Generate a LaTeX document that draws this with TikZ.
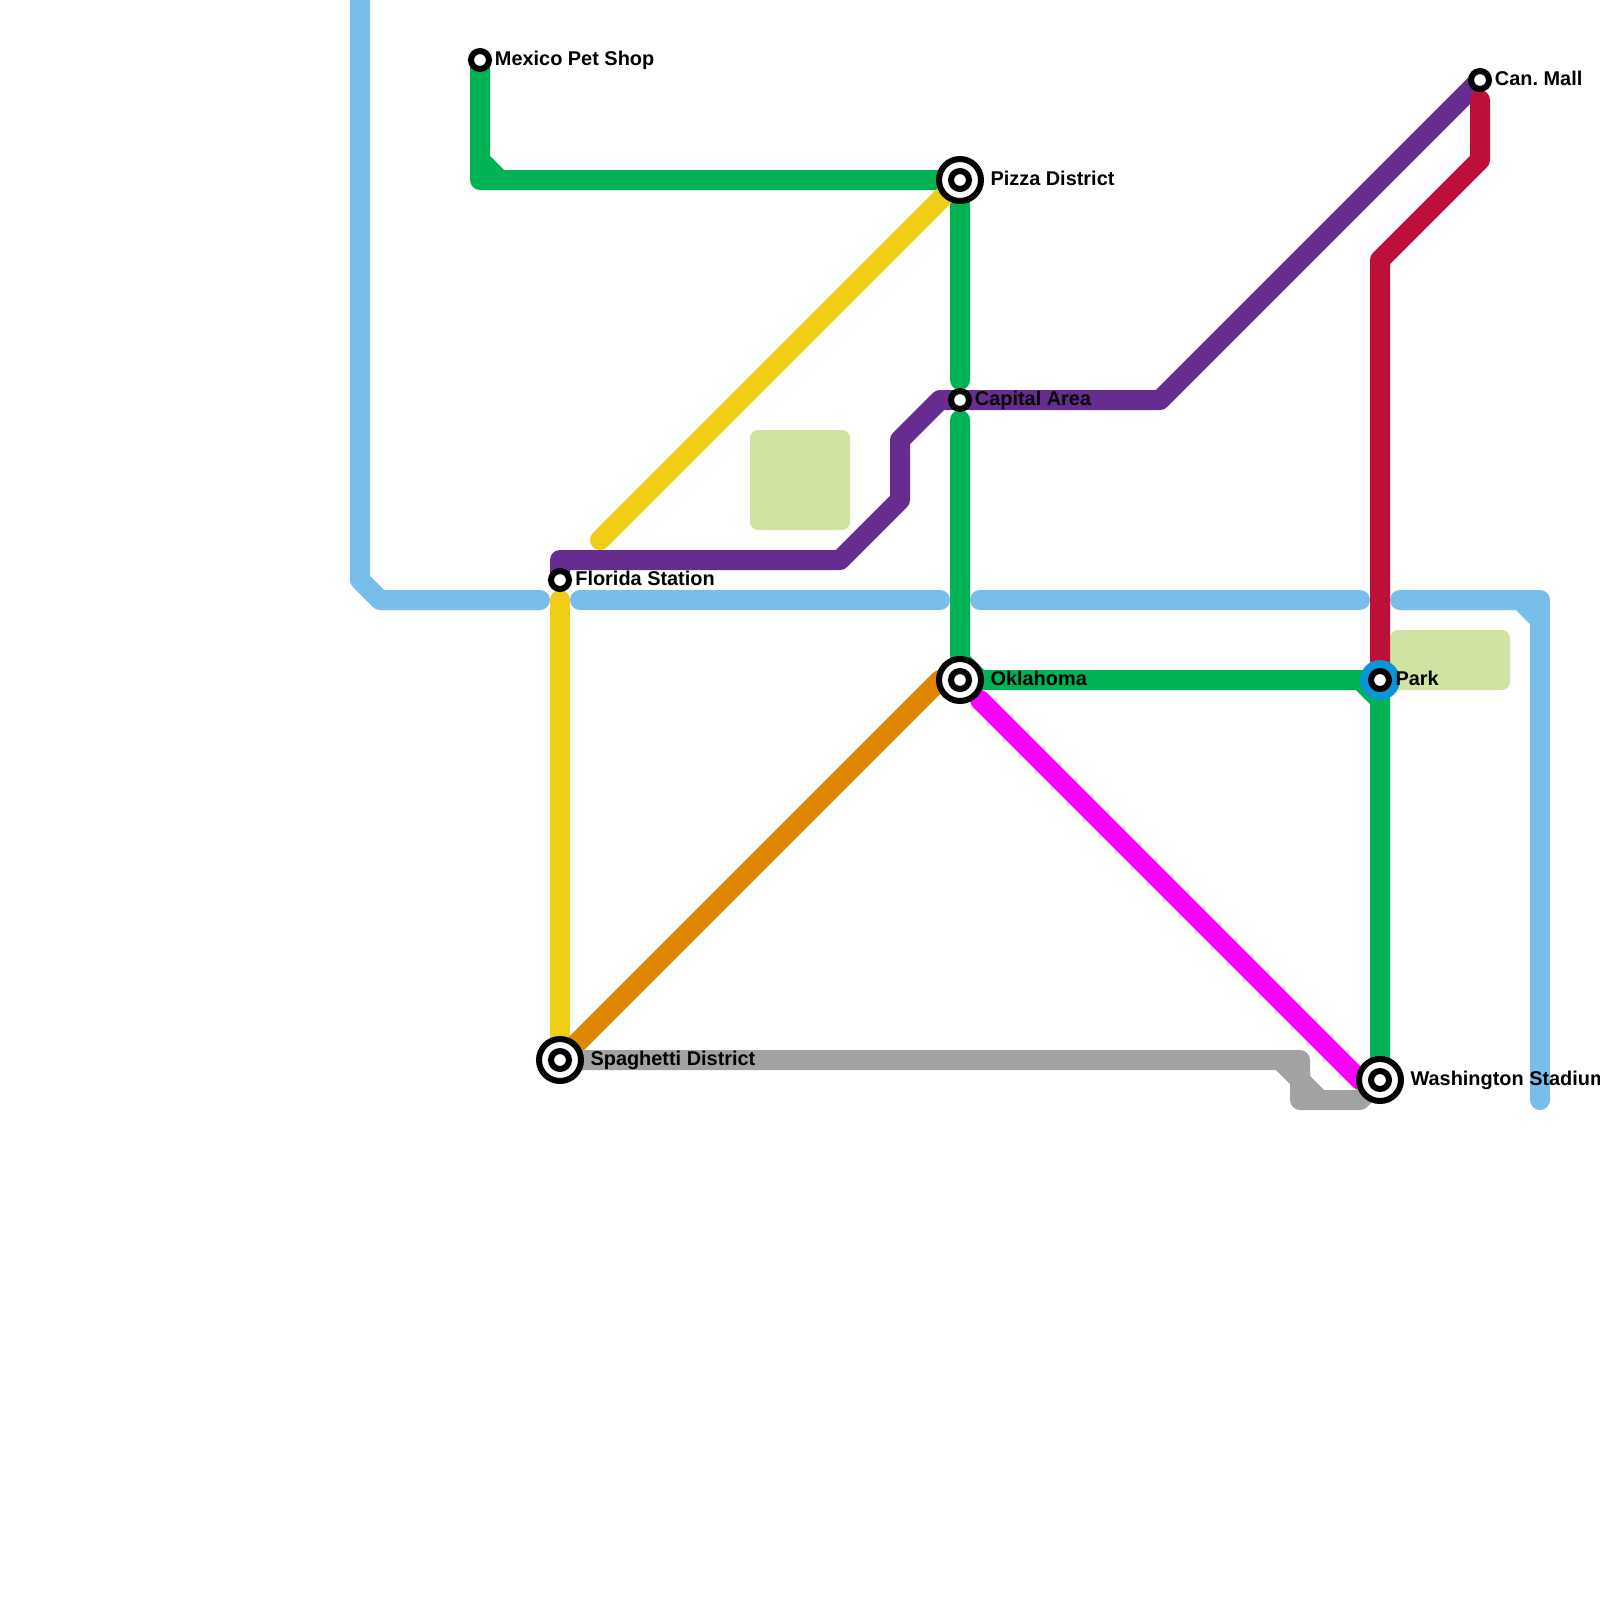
\documentclass[tikz,border=0pt]{standalone}
\usepackage{fontspec}
\setmainfont{Liberation Sans}
\frenchspacing
\usetikzlibrary{positioning}

\definecolor{skyline}{HTML}{79BDE9}
\definecolor{greenline}{HTML}{00B251}
\definecolor{purpleline}{HTML}{662C90}
\definecolor{yellowline}{HTML}{F0CE15}
\definecolor{orangeline}{HTML}{DF8600}
\definecolor{crimsonline}{HTML}{BD1038}
\definecolor{magentaline}{HTML}{FF00FF}
\definecolor{grayline}{HTML}{A2A2A2}
\definecolor{parkblue}{HTML}{0896D7}
\definecolor{parkgreen}{HTML}{CFE4A3}

\tikzset{
  metro/.style={line width=0.25cm, line cap=round, line join=round},
  smallstn/.style={circle, draw=black, fill=white, line width=0.075cm, minimum size=0.225cm, inner sep=0pt, outer sep=0pt},
  bigstn/.style={circle, draw=black, fill=white, line width=0.075cm, minimum size=0.525cm, inner sep=0pt, outer sep=0pt},
  parkstn/.style={circle, fill=parkblue, minimum size=0.5cm, inner sep=0pt, outer sep=0pt},
  stnlabel/.style={anchor=base west, inner sep=0pt, font=\fontsize{7.08pt}{8.5pt}\selectfont\bfseries},
  patch/.style={fill=parkgreen, rounded corners=0.1cm},
}

\begin{document}
\begin{tikzpicture}[x=0.25cm, y=-0.25cm]
  \useasboundingbox (0,0) rectangle (80,80);

  % Stations
  \coordinate (mexico) at (24,3);
  \coordinate (pizza) at (48,9);
  \coordinate (capital) at (48,20);
  \coordinate (florida) at (28,29);
  \coordinate (oklahoma) at (48,34);
  \coordinate (park) at (69,34);
  \coordinate (spaghetti) at (28,53);
  \coordinate (washington) at (69,54);
  \coordinate (canmall) at (74,4);

  % Park areas
  \fill[patch] (37.5,21.5) rectangle (42.5,26.5);
  \fill[patch] (69.5,31.5) rectangle (75.5,34.5);

  % Light blue line
  \draw[metro, skyline] (18,-1) -- (18,29) -- (19,30) -- (27,30);
  \draw[metro, skyline] (29,30) -- (47,30);
  \draw[metro, skyline] (49,30) -- (68,30);
  \draw[metro, skyline] (70,30) -- (77,30) -- (77,55) (76,30) -- (77,31);

  % Purple line
  \draw[metro, purpleline] (florida) -- (28,28) -- (42,28) -- (45,25) -- (45,22) -- (47,20) -- (capital) -- (58,20) -- (canmall);

  % Crimson line
  \draw[metro, crimsonline] (74,5) -- (74,8) -- (69,13) -- (park);

  % Green line
  \draw[metro, greenline] (mexico) -- (24,9) -- (pizza) -- (48,19) (24,8) -- (25,9);
  \draw[metro, greenline] (48,21) -- (oklahoma) -- (park) -- (washington) (48,33) -- (49,34) (68,34) -- (69,35);

  % Yellow line
  \draw[metro, yellowline] (30,27) -- (pizza);
  \draw[metro, yellowline] (28,30) -- (spaghetti);

  % Orange line
  \draw[metro, orangeline] (spaghetti) -- (47,34) -- (oklahoma);

  % Magenta line
  \draw[metro, magentaline] (49,35) -- (68,54) -- (washington);

  % Gray line
  \draw[metro, grayline] (spaghetti) -- (65,53) -- (65,55) -- (68,55) -- (washington) (64,53) -- (65,54) -- (66,55);

  % Station markers
  \node[smallstn] (mexicostn) at (mexico) {};
  \node[smallstn] (floridastn) at (florida) {};
  \node[smallstn] (capitalstn) at (capital) {};
  \node[smallstn] (canmallstn) at (canmall) {};
  \node[parkstn] (parkring) at (park) {};
  \node[smallstn] (parkstn) at (park) {};
  \foreach \s in {pizza, oklahoma, spaghetti, washington} {
    \node[bigstn] (\s ring) at (\s) {};
    \node[smallstn] (\s stn) at (\s) {};
  }

  % Labels
  \node[stnlabel] (mexicolabel) at (24.72,3.25) {Mexico Pet Shop};
  \node[stnlabel] (pizzalabel) at (49.5,9.25) {Pizza District};
  \node[stnlabel] (capitallabel) at (48.72,20.25) {Capital Area};
  \node[stnlabel] (floridalabel) at (28.74,29.25) {Florida Station};
  \node[stnlabel] (oklahomalabel) at (49.5,34.25) {Oklahoma};
  \node[stnlabel] (parklabel) at (69.75,34.25) {Park};
  \node[stnlabel] (spaghettilabel) at (29.5,53.25) {Spaghetti District};
  \node[stnlabel] (washingtonlabel) at (70.5,54.25) {Washington Stadium};
  \node[stnlabel] (canmalllabel) at (74.72,4.25) {Can. Mall};
\end{tikzpicture}
\end{document}
